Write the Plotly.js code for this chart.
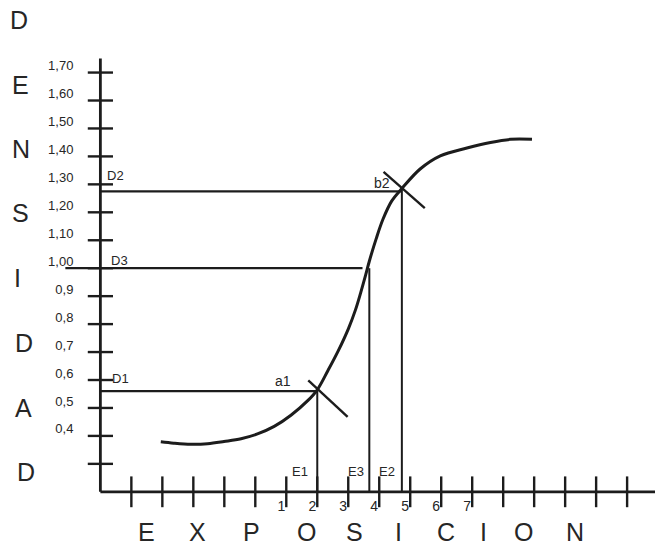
<!DOCTYPE html>
<html>
<head>
<meta charset="utf-8">
<script src="https://cdn.plot.ly/plotly-3.0.1.min.js"></script>
<style>
html,body{margin:0;padding:0;background:#ffffff;}
#chart{width:656px;height:550px;}
</style>
</head>
<body>
<div id="chart"></div>
<script>
// ---------- data ----------
const yTickVals  = [0.4, 0.5, 0.6, 0.7, 0.8, 0.9, 1.0, 1.1, 1.2, 1.3, 1.4, 1.5, 1.6, 1.7];
const yTickText  = ['0,4','0,5','0,6','0,7','0,8','0,9','1,00','1,10','1,20','1,30','1,40','1,50','1,60','1,70'];
const yTickMarks = [0.3, 0.4, 0.5, 0.6, 0.7, 0.8, 0.9, 1.0, 1.1, 1.2, 1.3, 1.4, 1.5, 1.6, 1.7];

const xTickMarks = [-4, -3, -2, -1, 0, 1, 2, 3, 4, 5, 6, 7, 8, 9, 10, 11, 12];
const xTickVals  = [1, 2, 3, 4, 5, 6, 7];
const xTickText  = ['1', '2', '3', '4', '5', '6', '7'];

// characteristic curve (exposure, density)
const curveX = [-3.05, -2.63, -2.08, -1.54, -1.01, -0.46, 0.07, 0.61, 1.15, 1.70, 2.00, 2.35, 2.68, 3.01, 3.23, 3.40, 3.56, 3.68, 3.90, 4.12, 4.40, 4.73, 5.32, 5.97, 6.83, 7.59, 8.24, 8.93];
const curveY = [0.379, 0.374, 0.370, 0.372, 0.380, 0.390, 0.407, 0.434, 0.474, 0.527, 0.565, 0.635, 0.705, 0.785, 0.850, 0.912, 0.975, 1.025, 1.105, 1.175, 1.240, 1.285, 1.355, 1.402, 1.430, 1.450, 1.461, 1.461];

// density reference lines
const densNames    = ['D1', 'D2', 'D3'];
const densLevels   = [0.56, 1.275, 1.00];
const densLineFrom = [-5, -5, -6.13];
const densLineTo   = [2.00, 4.70, 3.46];

// exposure reference lines
const expNames   = ['E1', 'E2', 'E3'];
const expValues  = [2.00, 4.73, 3.68];
const expLineTop = [0.565, 1.285, 1.00];

// marked points and their cross strokes
const pointNames = ['a1', 'b2'];
const pointX = [2.00, 4.73];
const pointY = [0.565, 1.285];
const crossAX = [1.71, 2.98], crossAY = [0.599, 0.468];
const crossBX = [4.14, 5.47], crossBY = [1.345, 1.215];

// axes extent
const axisOriginX = -5, axisOriginY = 0.2;
const xAxisEnd = 12.9, yAxisEnd = 1.75;

const yTitleLetters = ['D','E','N','S','I','D','A','D'];
const xTitleLetters = ['E','X','P','O','S','I','C','I','O','N'];

// ---------- style / layout ----------
const INK = '#1c1c1c';
const TXT = '#262626';
const FONT = 'Liberation Sans, Arial, Helvetica, sans-serif';
const W = 656, H = 550;
const M = {l: 57, r: 1, t: 53, b: 54};
const XR = [-6.4, 12.9], YR = [0.185, 1.77];

// pixel -> paper helpers for the free-standing letters
const pw = W - M.l - M.r, ph = H - M.t - M.b;
const pxX = p => (p - M.l) / pw;
const pxY = p => (H - M.b - p) / ph;

const yLetterLeft = [8, 10, 10, 10, 12, 13, 13, 15];
const yLetterMid  = [20, 85, 149, 213, 278, 343, 408, 472];
const xLetterMid  = [146, 197, 251, 306, 354, 399, 446, 483, 523, 575];
const xLetterY    = 532;

const traces = [];
function seg(xs, ys, w) {
  traces.push({type: 'scatter', mode: 'lines', x: xs, y: ys,
    line: {color: INK, width: w}, hoverinfo: 'skip', showlegend: false});
}

// axis lines
seg([axisOriginX, xAxisEnd], [axisOriginY, axisOriginY], 2.8);
seg([axisOriginX, axisOriginX], [axisOriginY, yAxisEnd], 2.8);

// tick marks crossing the axes
traces.push({type: 'scatter', mode: 'markers', x: yTickMarks.map(() => axisOriginX), y: yTickMarks,
  marker: {symbol: 'line-ew', size: 18, color: INK, line: {color: INK, width: 2.4}},
  cliponaxis: false, hoverinfo: 'skip', showlegend: false});
traces.push({type: 'scatter', mode: 'markers', x: xTickMarks, y: xTickMarks.map(() => axisOriginY),
  marker: {symbol: 'line-ns', size: 22, color: INK, line: {color: INK, width: 2.4}},
  cliponaxis: false, hoverinfo: 'skip', showlegend: false});

// density & exposure guide lines
densLevels.forEach((d, i) => seg([densLineFrom[i], densLineTo[i]], [d, d], 2.2));
expValues.forEach((e, i) => seg([e, e], [axisOriginY, expLineTop[i]], 2.0));

// curve
traces.push({type: 'scatter', mode: 'lines', x: curveX, y: curveY,
  line: {color: INK, width: 3, shape: 'spline', smoothing: 1},
  hoverinfo: 'skip', showlegend: false});

// crosses
seg(crossAX, crossAY, 2.4);
seg(crossBX, crossBY, 2.4);

const annotations = [];
const lblFont = {family: FONT, size: 13, color: TXT};
const densShift = [[20, 13], [15, 16], [19, 8]];
densNames.forEach((n, i) => annotations.push({x: axisOriginX, y: densLevels[i], xref: 'x', yref: 'y',
  text: n, showarrow: false, xshift: densShift[i][0], yshift: densShift[i][1], font: lblFont}));
const expShift = [[-17, 20], [-15, 20], [-13, 20]];
expNames.forEach((n, i) => annotations.push({x: expValues[i], y: axisOriginY, xref: 'x', yref: 'y',
  text: n, showarrow: false, xshift: expShift[i][0], yshift: expShift[i][1], font: lblFont}));
const ptShift = [[-34, 9], [-20, 6]];
pointNames.forEach((n, i) => annotations.push({x: pointX[i], y: pointY[i], xref: 'x', yref: 'y',
  text: n, showarrow: false, xshift: ptShift[i][0], yshift: ptShift[i][1],
  font: {family: FONT, size: 14, color: TXT}}));

yTitleLetters.forEach((c, i) => annotations.push({xref: 'paper', yref: 'paper',
  x: pxX(yLetterLeft[i]), y: pxY(yLetterMid[i]), xanchor: 'left', yanchor: 'middle',
  text: c, showarrow: false, font: {family: FONT, size: 25, color: TXT}}));
xTitleLetters.forEach((c, i) => annotations.push({xref: 'paper', yref: 'paper',
  x: pxX(xLetterMid[i]), y: pxY(xLetterY), xanchor: 'center', yanchor: 'middle',
  text: c, showarrow: false, font: {family: FONT, size: 25, color: TXT}}));

const layout = {
  width: W, height: H, margin: M,
  paper_bgcolor: '#ffffff', plot_bgcolor: '#ffffff',
  font: {family: FONT, color: TXT},
  xaxis: {range: XR, showgrid: false, zeroline: false, showline: false,
    tickmode: 'array', tickvals: xTickVals, ticktext: xTickText, ticks: '',
    ticklabelshift: -5, ticklabelstandoff: 0,
    tickfont: {family: FONT, size: 14, color: TXT}, fixedrange: true},
  yaxis: {range: YR, showgrid: false, zeroline: false, showline: false,
    anchor: 'free', position: (axisOriginX - XR[0]) / (XR[1] - XR[0]),
    tickmode: 'array', tickvals: yTickVals, ticktext: yTickText, ticks: '',
    ticklabelshift: -7, ticklabelstandoff: 27,
    tickfont: {family: FONT, size: 13, color: TXT}, fixedrange: true},
  annotations: annotations,
  showlegend: false
};

Plotly.newPlot('chart', traces, layout, {displayModeBar: false, staticPlot: true});
</script>
</body>
</html>
